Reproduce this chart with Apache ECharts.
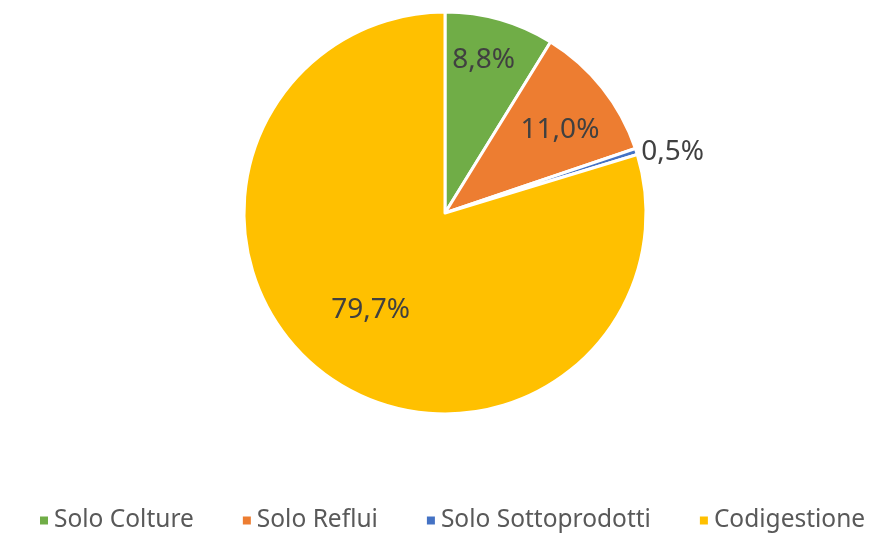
<!DOCTYPE html>
<html>
<head>
<meta charset="utf-8">
<script src="https://cdn.jsdelivr.net/npm/echarts@6/dist/echarts.min.js"></script>
<style>
  html, body { margin: 0; padding: 0; background: #fff; }
  #chart { width: 878px; height: 534px; }
</style>
</head>
<body>
<div id="chart"></div>
<script>
const categories = ['Solo Colture', 'Solo Reflui', 'Solo Sottoprodotti', 'Codigestione'];
const shares     = [8.8, 11.0, 0.5, 79.7];
const colors     = ['#70AD47', '#ED7D31', '#4472C4', '#FFC000'];

// label placement (Excel "best fit"): radial push from the default inside spot, plus a small nudge
const labelPush  = [1.58, 1.42, 2.3, 1.24];
const labelNudge = [[-6, 4], [0, 9], [1, 12], [2, -6]];

const CX = 445, CY = 213;

const chart = echarts.init(document.getElementById('chart'), null, { renderer: 'canvas' });

chart.setOption({
    animation: false,
    color: colors,
    textStyle: { fontFamily: 'Noto Sans' },
    legend: {
        bottom: -4,
        left: 33,
        icon: 'rect',
        itemWidth: 10,
        itemHeight: 10,
        itemGap: 47,
        textStyle: { fontSize: 24.5, color: '#595959', fontFamily: 'Noto Sans' },
        data: categories
    },
    series: [{
        type: 'pie',
        center: [CX, CY],
        radius: [0, 201],
        startAngle: 90,
        clockwise: true,
        avoidLabelOverlap: false,
        itemStyle: { borderColor: '#fff', borderWidth: 3 },
        label: {
            show: true,
            position: 'inside',
            color: '#404040',
            fontSize: 28,
            fontFamily: 'Noto Sans',
            formatter: p => p.value.toFixed(1).replace('.', ',') + '%'
        },
        labelLine: { show: false },
        labelLayout: p => {
            const r = p.labelRect;
            const vx = r.x + r.width / 2 - CX;
            const vy = r.y + r.height / 2 - CY;
            const k = labelPush[p.dataIndex] - 1;
            const [nx, ny] = labelNudge[p.dataIndex];
            return { dx: vx * k + nx, dy: vy * k + ny };
        },
        data: categories.map((name, i) => ({ name, value: shares[i] }))
    }]
});
</script>
</body>
</html>
